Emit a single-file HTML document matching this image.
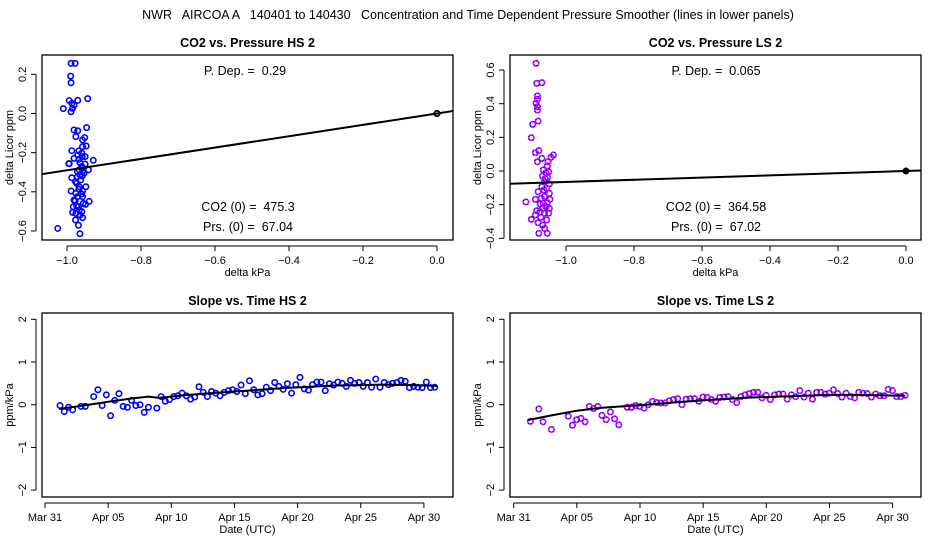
<!DOCTYPE html>
<html><head><meta charset="utf-8"><style>
html,body{margin:0;padding:0;background:#fff}
svg text{font-family:"Liberation Sans",sans-serif;fill:#000;white-space:pre}
</style></head><body>
<svg id="chart" width="936" height="540" viewBox="0 0 936 540" xmlns="http://www.w3.org/2000/svg">
<rect width="936" height="540" fill="#fff"/>
<text x="468" y="19" font-size="12.5" text-anchor="middle">NWR   AIRCOA A   140401 to 140430   Concentration and Time Dependent Pressure Smoother (lines in lower panels)</text>
</svg>
<script>
// ---- Data: top-left (HS) scatter ----
const hsPx = [-1.025,-1.010,-0.995,-0.994,-0.990,-0.989,-0.989,-0.978,-0.971,-0.944,-0.987,-0.981,-0.989,-0.985,-0.981,-0.971,-0.947,-0.976,-0.952,-0.987,-0.981,-0.960,-0.958,-0.948,-0.968,-0.971,-0.994,-0.965,-0.951,-0.929,-0.942,-0.960,-0.987,-0.965,-0.974,-0.949,-0.989,-0.958,-0.972,-0.978,-0.958,-0.940,-0.950,-0.985,-0.967,-0.960,-0.977,-0.958,-0.969,-0.965,-0.969,-0.976,-0.967,-0.963,-0.972,-0.956,-0.968,-0.959,-0.976,-0.965,-0.974,-0.981,-0.956,-0.961,-0.968,-0.972,-0.977,-0.967,-0.951,-0.958,-0.961,-0.954,-0.983,-0.959];
const hsDc = [-0.587,0.025,-0.256,-0.256,0.191,0.256,0.157,0.256,0.067,0.076,0.052,0.043,0.009,0.026,-0.084,-0.088,-0.072,-0.118,-0.123,-0.190,-0.229,-0.203,-0.169,-0.166,-0.191,-0.212,0.066,-0.251,-0.258,-0.239,-0.288,-0.271,-0.328,-0.314,-0.357,-0.374,-0.396,-0.396,-0.425,-0.445,-0.425,-0.449,-0.464,-0.505,-0.493,-0.501,-0.544,-0.532,-0.571,-0.614,-0.476,-0.408,-0.374,-0.339,-0.296,-0.291,-0.234,-0.220,-0.510,-0.519,-0.471,-0.442,-0.459,-0.411,-0.387,-0.323,-0.348,-0.288,-0.220,-0.135,-0.280,-0.305,-0.476,-0.319];
// ---- Data: top-right (LS) scatter ----
const lsPx = [-1.088,-1.086,-1.071,-1.084,-1.084,-1.088,-1.084,-1.084,-1.082,-1.098,-1.102,-1.090,-1.080,-1.084,-1.071,-1.053,-1.037,-1.044,-1.055,-1.067,-1.059,-1.069,-1.054,-1.063,-1.049,-1.071,-1.057,-1.082,-1.090,-1.118,-1.049,-1.063,-1.076,-1.055,-1.069,-1.049,-1.086,-1.063,-1.102,-1.074,-1.057,-1.082,-1.069,-1.063,-1.080,-1.055,-1.047,-1.073,-1.065,-1.051,-1.061,-1.076,-1.090,-1.051,-1.067,-1.059];
const lsDc = [0.640,0.521,0.525,0.446,0.426,0.402,0.382,0.362,0.297,0.277,0.198,0.109,0.121,0.055,0.075,0.055,0.095,0.081,0.030,0.006,-0.010,-0.030,-0.038,-0.063,-0.077,-0.093,-0.103,-0.123,-0.168,-0.184,-0.133,-0.152,-0.196,-0.188,-0.222,-0.222,-0.236,-0.251,-0.287,-0.275,-0.291,-0.307,-0.321,-0.341,-0.370,-0.370,-0.168,-0.162,-0.113,-0.004,-0.044,-0.242,-0.261,-0.251,-0.192,-0.212];
const hsSlopeFit = 0.29, lsSlopeFit = 0.065;
// ---- Data: bottom panels (8-hourly slopes; day offset from Mar 31) ----
const hsStartDay = 1.19, lsStartDay = 1.32, stepDays = 1/3;
const hsSlope = [-0.02,-0.16,-0.06,-0.12,null,-0.04,-0.04,null,0.19,0.35,-0.02,0.23,-0.26,0.10,0.26,-0.04,-0.06,0.10,-0.02,0.00,-0.18,-0.06,null,-0.08,0.19,0.08,0.12,0.19,0.21,0.27,0.21,0.13,0.18,0.42,0.29,0.19,0.31,0.27,0.21,0.29,0.33,0.35,0.31,0.46,0.26,0.56,0.35,0.23,0.26,0.41,0.33,0.52,0.43,0.36,0.49,0.27,0.47,0.64,0.37,0.34,0.47,0.53,0.53,0.33,0.49,0.46,0.53,0.50,0.43,0.57,0.50,0.52,0.43,0.52,0.41,0.60,0.41,0.52,0.47,0.50,0.52,0.57,0.55,0.40,0.43,0.41,0.40,0.53,0.40,0.41];
const lsSlope = [-0.39,null,-0.10,-0.40,null,-0.58,null,null,null,-0.27,-0.48,-0.35,-0.32,-0.40,-0.04,-0.09,-0.04,-0.25,-0.35,-0.17,-0.33,-0.47,null,-0.06,-0.06,-0.02,-0.04,-0.08,0.00,0.08,0.05,0.04,0.04,0.09,0.12,0.14,0.00,0.13,0.14,0.14,0.08,0.18,0.17,0.12,0.08,0.17,0.18,0.19,0.12,0.05,0.19,0.23,0.26,0.29,0.29,0.16,0.22,0.12,0.23,0.25,0.25,0.13,0.23,0.19,0.33,0.18,0.27,0.13,0.29,0.29,0.25,0.27,0.35,0.26,0.18,0.27,0.19,0.16,0.29,0.27,0.26,0.18,0.25,0.21,0.21,0.36,0.33,0.19,0.19,0.22];
const hsSmDays = [1.1,3,5,7,8.2,9,11,13,15,17,19,21,23,25,27,29,31];
const hsSmVals = [-0.10,-0.02,0.07,0.15,0.19,0.16,0.22,0.27,0.31,0.35,0.39,0.42,0.45,0.46,0.47,0.46,0.44];
const lsSmDays = [1.1,3,5,7,9,11,13,15,17,19,21,23,25,27,29,31];
const lsSmVals = [-0.36,-0.25,-0.14,-0.07,-0.03,0.01,0.06,0.10,0.14,0.17,0.19,0.21,0.23,0.23,0.22,0.21];
const xTicksTop = [-1.0,-0.8,-0.6,-0.4,-0.2,0.0];
const yTicksHS = [-0.6,-0.4,-0.2,0.0,0.2];
const yTicksLS = [-0.4,-0.2,0.0,0.2,0.4,0.6];
const yTicksBot = [-2,-1,0,1,2];
const dateTickDays = [0,5,10,15,20,25,30];
const dateTickLabels = ['Mar 31','Apr 05','Apr 10','Apr 15','Apr 20','Apr 25','Apr 30'];

const svg = document.getElementById('chart');
const NS = 'http://www.w3.org/2000/svg';
function mk(tag, attrs, parent){const e=document.createElementNS(NS,tag);for(const k in attrs)e.setAttribute(k,attrs[k]);(parent||svg).appendChild(e);return e;}
function txt(s, attrs, parent){const e=mk('text',attrs,parent);e.textContent=s;return e;}

function panel(o){
  const g = mk('g',{});
  
  
  const sx = v => o.x0px + (v - o.x0v)*o.xs;
  const sy = v => o.y0px - (v - o.y0v)*o.ys;
  const box = mk('rect',{x:o.L,y:o.T,width:o.R-o.L,height:o.B-o.T,fill:'none',stroke:'#000','stroke-width':1.3},g);
  
  
  const t = txt(o.title,{x:(o.L+o.R)/2,y:o.T-8,'font-size':12.5,'font-weight':'bold','text-anchor':'middle'},g);
  
  
  const xt = o.xticks.map(sx);
  const xa = mk('g',{},g);
  
  
  mk('line',{x1:xt[0],x2:xt[xt.length-1],y1:o.B+6,y2:o.B+6,stroke:'#000'},xa);
  o.xticks.forEach((v,i)=>{
    mk('line',{x1:xt[i],x2:xt[i],y1:o.B+6,y2:o.B+11,stroke:'#000'},xa);
    const l = txt(o.xlabels[i],{x:xt[i],y:o.B+24,'font-size':11,'text-anchor':'middle'},xa);
    
    
  });
  const xtl = txt(o.xtitle,{x:(o.L+o.R)/2,y:o.B+36,'font-size':11,'text-anchor':'middle'},g);
  
  
  const ya = mk('g',{},g);
  
  
  const yt = o.yticks.map(sy);
  mk('line',{x1:o.L-6,x2:o.L-6,y1:yt[0],y2:yt[yt.length-1],stroke:'#000'},ya);
  o.yticks.forEach((v,i)=>{
    mk('line',{x1:o.L-11,x2:o.L-6,y1:yt[i],y2:yt[i],stroke:'#000'},ya);
    const l = txt(o.ylabels[i],{x:o.L-16,y:yt[i],'font-size':11,'text-anchor':'middle',transform:`rotate(-90 ${o.L-16} ${yt[i]})`},ya);
    
    
  });
  const ytl = txt(o.ytitle,{x:o.L-29,y:(o.T+o.B)/2,'font-size':11,'text-anchor':'middle',transform:`rotate(-90 ${o.L-29} ${(o.T+o.B)/2})`},g);
  
  
  const cid = 'clip-'+o.name;
  const cp = mk('clipPath',{id:cid},g);
  mk('rect',{x:o.L,y:o.T,width:o.R-o.L,height:o.B-o.T},cp);
  const plot = mk('g',{'clip-path':`url(#${cid})`},g);
  return {g, plot, sx, sy};
}
function point(p, x, y, ls){
  if (ls){
    const c1 = mk('circle',{cx:x,cy:y,r:2.7,fill:'none',stroke:'#0000ff','stroke-width':1.5},p);
    
    
    mk('circle',{cx:x,cy:y,r:2.7,fill:'none',stroke:'#ff00ff','stroke-width':1.5,'stroke-dasharray':'2 1.5'},p);
  } else {
    const c = mk('circle',{cx:x,cy:y,r:2.7,fill:'none',stroke:'#0000ff','stroke-width':1.6},p);
    
    
  }
}
function fmt1(v){return v===0?'0.0':(v<0?'\u2212':'')+Math.abs(v).toFixed(1);}
function fmtI(v){return v<0?'\u2212'+Math.abs(v):String(v);}

(function(){
  const P = panel({name:'co2-vs-pressure-hs-panel',title:'CO2 vs. Pressure HS 2',L:42,R:453,T:55,B:240,
    x0v:0,x0px:437,xs:370,y0v:0,y0px:113.5,ys:195.8,
    xticks:xTicksTop,xlabels:xTicksTop.map(fmt1),yticks:yTicksHS,ylabels:yTicksHS.map(fmt1),
    xtitle:'delta kPa',ytitle:'delta Licor ppm'});
  hsPx.forEach((x,i)=>point(P.plot,P.sx(x),P.sy(hsDc[i]),false));
  const ln = mk('line',{x1:P.sx(-1.1),y1:P.sy(-1.1*hsSlopeFit),x2:P.sx(0.05),y2:P.sy(0.05*hsSlopeFit),stroke:'#000','stroke-width':2},P.plot);
  
  
  mk('circle',{cx:P.sx(0),cy:P.sy(0),r:2.7,fill:'none',stroke:'#000','stroke-width':1.8},P.plot);
  const a=txt('P. Dep. =  0.29',{x:245,y:75,'font-size':12.5,'text-anchor':'middle'},P.g);
  
  
  const b=txt('CO2 (0) =  475.3',{x:248,y:211,'font-size':12.5,'text-anchor':'middle'},P.g);
  
  
  const c=txt('Prs. (0) =  67.04',{x:248,y:231,'font-size':12.5,'text-anchor':'middle'},P.g);
  
  
})();

(function(){
  const P = panel({name:'co2-vs-pressure-ls-panel',title:'CO2 vs. Pressure LS 2',L:510,R:921,T:55,B:240,
    x0v:0,x0px:906,xs:340,y0v:0,y0px:171,ys:168.3,
    xticks:xTicksTop,xlabels:xTicksTop.map(fmt1),yticks:yTicksLS,ylabels:yTicksLS.map(fmt1),
    xtitle:'delta kPa',ytitle:'delta Licor ppm'});
  lsPx.forEach((x,i)=>point(P.plot,P.sx(x),P.sy(lsDc[i]),true));
  const ln = mk('line',{x1:P.sx(-1.2),y1:P.sy(-1.2*lsSlopeFit),x2:P.sx(0.05),y2:P.sy(0.05*lsSlopeFit),stroke:'#000','stroke-width':2},P.plot);
  
  
  mk('circle',{cx:P.sx(0),cy:P.sy(0),r:2.7,fill:'#000',stroke:'#000','stroke-width':1.5},P.plot);
  const a=txt('P. Dep. =  0.065',{x:716,y:75,'font-size':12.5,'text-anchor':'middle'},P.g);
  
  
  const b=txt('CO2 (0) =  364.58',{x:716,y:211,'font-size':12.5,'text-anchor':'middle'},P.g);
  
  
  const c=txt('Prs. (0) =  67.02',{x:716,y:231,'font-size':12.5,'text-anchor':'middle'},P.g);
  
  
})();

function timePanel(name,title,L,R,x0px,startDay,vals,smD,smV,ls){
  const P = panel({name,title,L,R,T:313,B:497,
    x0v:0,x0px,xs:12.63,y0v:0,y0px:404.7,ys:42.7,
    xticks:dateTickDays,xlabels:dateTickLabels,yticks:yTicksBot,ylabels:yTicksBot.map(fmtI),
    xtitle:'Date (UTC)',ytitle:'ppm/kPa'});
  vals.forEach((v,i)=>{ if(v!==null) point(P.plot,P.sx(startDay+i*stepDays),P.sy(v),ls); });
  const d = smD.map((x,i)=>(i?'L':'M')+P.sx(x).toFixed(1)+','+P.sy(smV[i]).toFixed(1)).join(' ');
  const pl = mk('path',{d,fill:'none',stroke:'#000','stroke-width':2},P.plot);
  
  
}
timePanel('slope-vs-time-hs-panel','Slope vs. Time HS 2',42,453,45,hsStartDay,hsSlope,hsSmDays,hsSmVals,false);
timePanel('slope-vs-time-ls-panel','Slope vs. Time LS 2',510,921,513.7,lsStartDay,lsSlope,lsSmDays,lsSmVals,true);
</script>
</body></html>
